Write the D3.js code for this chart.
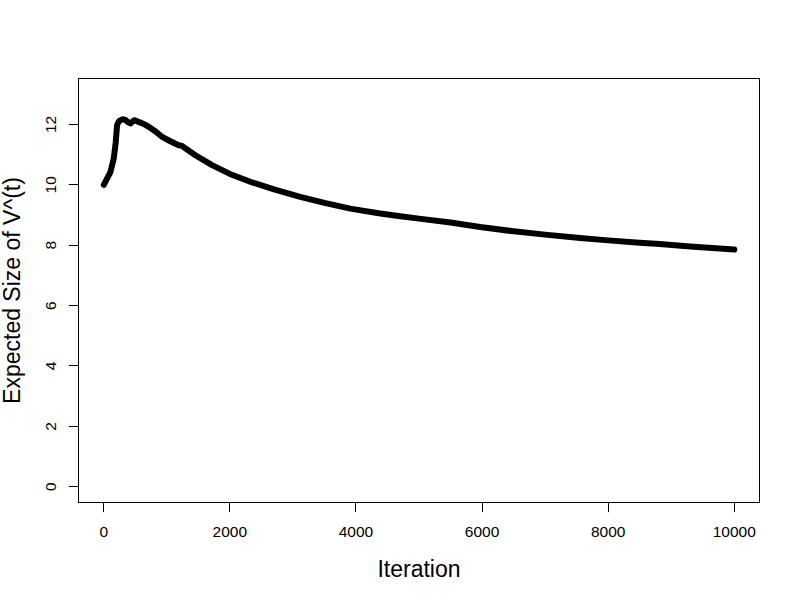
<!DOCTYPE html>
<html>
<head>
<meta charset="utf-8">
<script src="https://cdn.jsdelivr.net/npm/d3@7"></script>
<style>
  body { margin: 0; background: #fff; }
  text { font-family: Arial, "Liberation Sans", sans-serif; fill: #000; }
</style>
</head>
<body>
<div id="container"></div>
<script>
/** CONSTANTS AND GLOBALS */
const width = 800,
  height = 600,
  margin = { top: 78.5, bottom: 97.5, left: 78.5, right: 40.5 };

// iteration numbers and expected size of V^(t)
const iterations = [1, 50, 106, 159, 190, 212, 240, 265, 300, 344, 380, 423, 460, 491, 530, 582,
  650, 713, 800, 925, 1050, 1189, 1242, 1300, 1453, 1718, 2000, 2325, 2700, 3117, 3500, 3910,
  4385, 4702, 5000, 5500, 5970, 6500, 7000, 7555, 8000, 8500, 8817, 9300, 10000];
const expectedSize = [10.0, 10.2, 10.42, 10.87, 11.4, 11.98, 12.1, 12.14, 12.17, 12.15, 12.08, 12.03,
  12.1, 12.14, 12.1, 12.06, 12.0, 11.92, 11.8, 11.59, 11.45, 11.31, 11.29, 11.2, 10.98, 10.65,
  10.36, 10.1, 9.85, 9.6, 9.4, 9.21, 9.05, 8.96, 8.88, 8.75, 8.6, 8.46, 8.35, 8.24, 8.16, 8.08,
  8.04, 7.96, 7.86];

const xTicks = [0, 2000, 4000, 6000, 8000, 10000];
const yTicks = [0, 2, 4, 6, 8, 10, 12];

const xLabel = "Iteration";
const yLabel = "Expected Size of V^(t)";

/** INITIALIZING FUNCTION */
function init() {
  const data = iterations.map((d, i) => ({ x: d, y: expectedSize[i] }));

  const svg = d3.select("#container")
    .append("svg")
    .attr("width", width)
    .attr("height", height);

  // R style 4% padding on each side
  const xScale = d3.scaleLinear()
    .domain([-400, 10400])
    .range([margin.left, width - margin.right]);

  const yScale = d3.scaleLinear()
    .domain([-0.52, 13.52])
    .range([height - margin.bottom, margin.top]);

  const snap = v => Math.round(v - 0.5) + 0.5;

  // box
  svg.append("rect")
    .attr("x", margin.left)
    .attr("y", margin.top)
    .attr("width", width - margin.right - margin.left)
    .attr("height", height - margin.bottom - margin.top)
    .attr("fill", "none")
    .attr("stroke", "#000")
    .attr("stroke-width", 1);

  // x axis
  const xAxis = svg.append("g");
  const bottom = height - margin.bottom;
  xAxis.append("line")
    .attr("x1", snap(xScale(xTicks[0])))
    .attr("x2", snap(xScale(xTicks[xTicks.length - 1])))
    .attr("y1", bottom).attr("y2", bottom)
    .attr("stroke", "#000");
  xAxis.selectAll("line.tick")
    .data(xTicks)
    .join("line")
    .attr("class", "tick")
    .attr("x1", d => snap(xScale(d)))
    .attr("x2", d => snap(xScale(d)))
    .attr("y1", bottom)
    .attr("y2", bottom + 9.6)
    .attr("stroke", "#000");
  xAxis.selectAll("text")
    .data(xTicks)
    .join("text")
    .attr("x", d => xScale(d))
    .attr("y", 537)
    .attr("text-anchor", "middle")
    .attr("font-size", 15.5)
    .text(d => d);

  // y axis
  const yAxis = svg.append("g");
  const left = margin.left;
  yAxis.append("line")
    .attr("x1", left).attr("x2", left)
    .attr("y1", snap(yScale(yTicks[0])))
    .attr("y2", snap(yScale(yTicks[yTicks.length - 1])))
    .attr("stroke", "#000");
  yAxis.selectAll("line.tick")
    .data(yTicks)
    .join("line")
    .attr("class", "tick")
    .attr("x1", left)
    .attr("x2", left - 9.6)
    .attr("y1", d => snap(yScale(d)))
    .attr("y2", d => snap(yScale(d)))
    .attr("stroke", "#000");
  yAxis.selectAll("text")
    .data(yTicks)
    .join("text")
    .attr("transform", d => `translate(56,${yScale(d)}) rotate(-90)`)
    .attr("text-anchor", "middle")
    .attr("font-size", 15.5)
    .text(d => d);

  // axis titles
  svg.append("text")
    .attr("x", (margin.left + width - margin.right) / 2)
    .attr("y", 577)
    .attr("text-anchor", "middle")
    .attr("font-size", 23)
    .text(xLabel);

  svg.append("text")
    .attr("transform", `translate(20,${(margin.top + height - margin.bottom) / 2}) rotate(-90)`)
    .attr("text-anchor", "middle")
    .attr("font-size", 23)
    .text(yLabel);

  // the series
  const line = d3.line()
    .x(d => xScale(d.x))
    .y(d => yScale(d.y));

  svg.append("path")
    .datum(data)
    .attr("d", line)
    .attr("fill", "none")
    .attr("stroke", "#000")
    .attr("stroke-width", 6)
    .attr("stroke-linecap", "round")
    .attr("stroke-linejoin", "round");
}

init();
</script>
</body>
</html>
